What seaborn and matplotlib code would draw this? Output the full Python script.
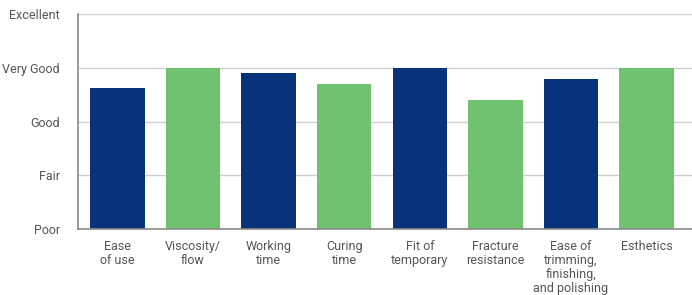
"""Rating bar chart for temporary crown material properties."""

import matplotlib.pyplot as plt
import pandas as pd
import seaborn as sns

categories = [
    "Ease\nof use",
    "Viscosity/\nflow",
    "Working\ntime",
    "Curing\ntime",
    "Fit of\ntemporary",
    "Fracture\nresistance",
    "Ease of\ntrimming,\nfinishing,\nand polishing",
    "Esthetics",
]
ratings = [2.63, 3.0, 2.91, 2.71, 3.0, 2.41, 2.80, 3.0]
rating_labels = ["Poor", "Fair", "Good", "Very Good", "Excellent"]
bar_colors = ["#08337a", "#70c270"] * 4

df = pd.DataFrame({"Property": categories, "Rating": ratings})

sns.set_style("white")
plt.rcParams["font.family"] = ["Liberation Sans Narrow", "Roboto", "DejaVu Sans"]

fig = plt.figure(figsize=(6.92, 2.95), dpi=100)
ax = fig.add_axes([78 / 692, 1 - 229 / 295, (692 - 78) / 692, (229 - 14.3) / 295])

sns.barplot(
    data=df,
    x="Property",
    y="Rating",
    hue="Property",
    palette=bar_colors,
    legend=False,
    width=0.72,
    saturation=1,
    linewidth=0,
    ax=ax,
)

ax.set_axisbelow(True)
ax.set_ylim(0, 4)
ax.set_xlim(-0.52, 7.6)
ax.set_yticks(range(5))
ax.set_yticklabels(rating_labels)
ax.yaxis.grid(True, color="#cfcfcf", linewidth=1.0)
ax.set_xlabel("")
ax.set_ylabel("")

for side in ["top", "right"]:
    ax.spines[side].set_visible(False)
for side in ["left", "bottom"]:
    ax.spines[side].set_color("#8a8a8a")
    ax.spines[side].set_linewidth(1.2)

ax.tick_params(axis="y", length=3, color="#8a8a8a", pad=10, labelsize=9,
               labelcolor="#555555")
ax.tick_params(axis="x", length=0, pad=8, labelsize=9, labelcolor="#555555")
for label in ax.get_xticklabels():
    label.set_verticalalignment("top")
    label.set_linespacing(1.1)

fig.savefig("out.png", dpi=100)
plt.close(fig)
